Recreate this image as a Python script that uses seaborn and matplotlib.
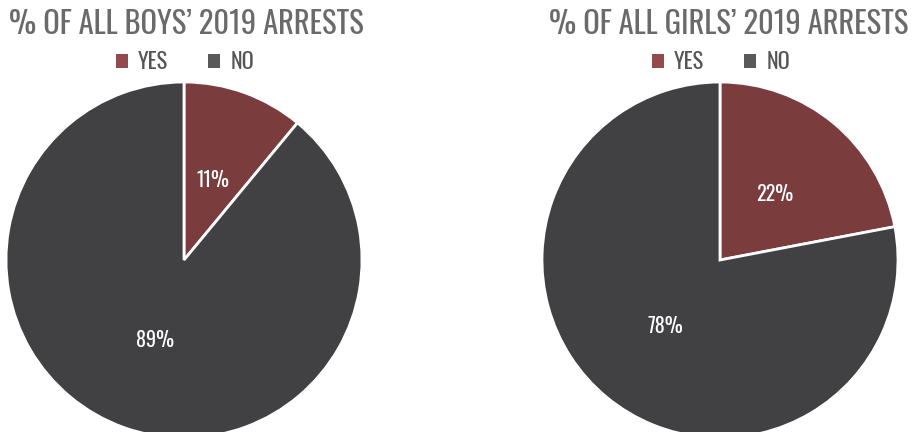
import matplotlib
matplotlib.use("Agg")
import matplotlib.pyplot as plt
from matplotlib.patches import Patch
import seaborn as sns

# Share of 2019 arrests, by group
categories = ["YES", "NO"]
boys_pct = [11, 89]
girls_pct = [22, 78]
titles = ["% OF ALL BOYS\u2019 2019 ARRESTS", "% OF ALL GIRLS\u2019 2019 ARRESTS"]

sns.set_theme(style="white")
plt.rcParams["font.family"] = ["Oswald", "DejaVu Sans"]

palette = ["#7b3c3e", "#414042"]
legend_colors = ["#94494c", "#595959"]
text_grey = "#6a6a6a"

W, H = 915, 432
fig = plt.figure(figsize=(W / 100, H / 100), dpi=100)
fig.patch.set_facecolor("white")

# pie centres and radius in pixels
centres = [(184, 260), (720, 260)]
radius_px = 178
title_x = [186, 729]

for values, title, (cx, cy), tx in zip([boys_pct, girls_pct], titles, centres, title_x):
    ax = fig.add_axes([(cx - radius_px) / W, (H - cy - radius_px) / H,
                       2 * radius_px / W, 2 * radius_px / H])
    ax.pie(values, colors=palette, startangle=90, counterclock=False,
           autopct="%d%%", pctdistance=0.48,
           wedgeprops=dict(edgecolor="white", linewidth=2),
           textprops=dict(color="white", fontsize=14.5))
    ax.set_xlim(-1.0, 1.0)
    ax.set_ylim(-1.0, 1.0)
    ax.set_aspect("equal")
    ax.axis("off")

    fig.text(tx / W, 1 - 24 / H, title, ha="center", va="center",
             fontsize=22, color=text_grey)

    handles = [Patch(facecolor=c, edgecolor="none") for c in legend_colors]
    fig.legend(handles, categories, loc="center", ncol=2,
               bbox_to_anchor=((cx + 1) / W, 1 - 62 / H), frameon=False,
               fontsize=16, labelcolor="#555555",
               handlelength=0.55, handleheight=0.55, handletextpad=0.45,
               columnspacing=1.8)

fig.savefig("out.png", dpi=100, facecolor="white")
